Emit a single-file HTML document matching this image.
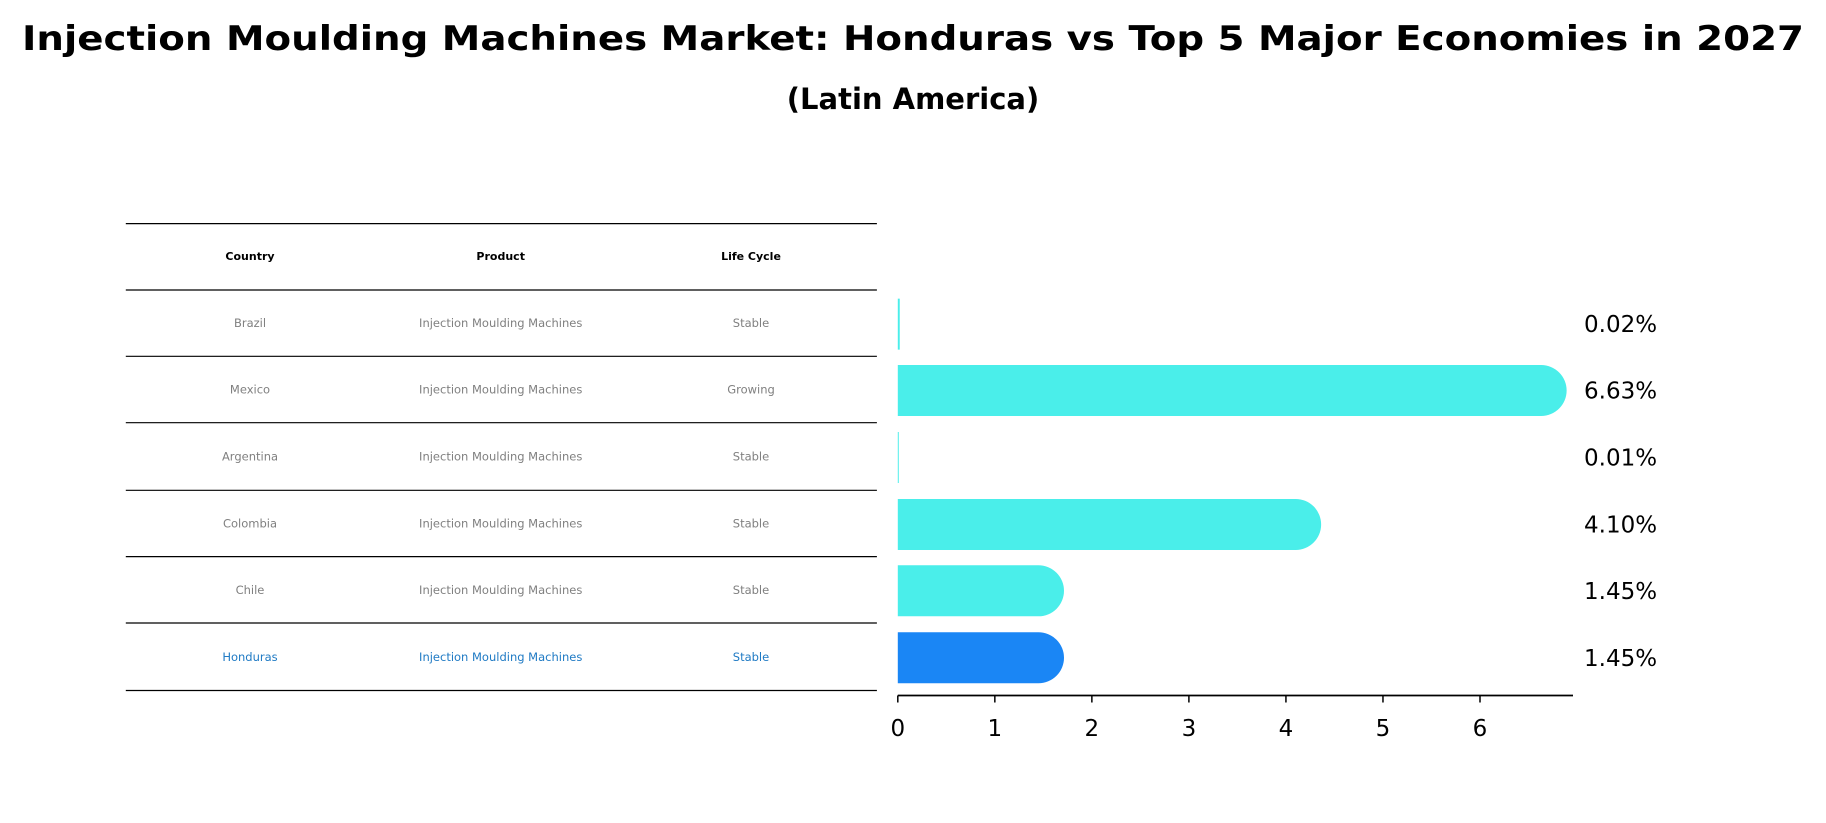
<!DOCTYPE html>
<html><head><meta charset="utf-8"><style>
html,body{margin:0;padding:0;background:#fff;}
svg{display:block;font-family:"DejaVu Sans","Liberation Sans",sans-serif;}
</style></head><body>
<svg id="chart" width="1826" height="823" viewBox="0 0 1826 823">
<text x="913" y="50" text-anchor="middle" font-size="34" font-weight="bold" textLength="1782" lengthAdjust="spacingAndGlyphs">Injection Moulding Machines Market: Honduras vs Top 5 Major Economies in 2027</text>
<text x="913" y="109" text-anchor="middle" font-size="29" font-weight="bold">(Latin America)</text>
<g id="table"></g>
<g id="bars"></g>
</svg>
<script>
const countries = ["Brazil","Mexico","Argentina","Colombia","Chile","Honduras"];
const products = ["Injection Moulding Machines","Injection Moulding Machines","Injection Moulding Machines","Injection Moulding Machines","Injection Moulding Machines","Injection Moulding Machines"];
const lifeCycles = ["Stable","Growing","Stable","Stable","Stable","Stable"];
const values = [0.02,6.63,0.01,4.10,1.45,1.45];
const valueLabels = ["0.02%","6.63%","0.01%","4.10%","1.45%","1.45%"];
const xTicks = [0,1,2,3,4,5,6];
const headers = ["Country","Product","Life Cycle"];

const NS="http://www.w3.org/2000/svg";
function mk(tag,attrs,parent){const e=document.createElementNS(NS,tag);for(const k in attrs)e.setAttribute(k,attrs[k]);parent.appendChild(e);return e;}
const table=document.getElementById('table');
const bars=document.getElementById('bars');
const lineYs=[223.6,290,356.3,422.7,490.3,556.6,623,690.5];
const colX=[250,500.7,751];
lineYs.forEach(function(y){
  const l=mk('line',{x1:125.8,x2:876.9,y1:y,y2:y,stroke:'#000','stroke-width':1.2},table);
  
  
});
headers.forEach(function(h,i){
  const t=mk('text',{x:colX[i],y:260,'text-anchor':'middle','font-size':11,'font-weight':'bold'},table);
  t.textContent=h;
  
  
});
// axis
const x0=897.8, unit=(1480-897.8)/6;
function xs(v){return x0+v*unit;}
const axisY=695.5;
function rowY(i){return (lineYs[i+1]+lineYs[i+2])/2 - 1;}
countries.forEach(function(c,i){
  const cy=(lineYs[i+1]+lineYs[i+2])/2;
  const col=i===5?'#1f7ac4':'#808080';
  [c,products[i],lifeCycles[i]].forEach(function(txt,j){
    const t=mk('text',{x:colX[j],y:cy+4,'text-anchor':'middle','font-size':11.5,fill:col},table);
    t.textContent=txt;
    
    
  });
  const h=51, by=cy-h/2+1;
  const w=xs(values[i])-x0;
  const fill=i===5?'#1a86f5':'#4aeeea';
  let d;
  if(values[i]>=0.5){
    const r=h/2;
    d='M'+x0+','+by+' H'+(x0+w)+' A'+r+','+r+' 0 0 1 '+(x0+w)+','+(by+h)+' H'+x0+' Z';
  } else {
    d='M'+x0+','+by+' h'+Math.max(w,0.5)+' v'+h+' h-'+Math.max(w,0.5)+' Z';
  }
  const b=mk('path',{d:d,fill:fill},bars);
  
  
  const lt=mk('text',{x:1584,y:cy+9,'font-size':23},bars);
  lt.textContent=valueLabels[i];
  
  
});
const ax=mk('line',{x1:x0,x2:1573,y1:axisY,y2:axisY,stroke:'#000','stroke-width':1.8},bars);


xTicks.forEach(function(t){
  const tk=mk('line',{x1:xs(t),x2:xs(t),y1:axisY,y2:axisY+7,stroke:'#000','stroke-width':1.5},bars);
  
  
  const tl=mk('text',{x:xs(t),y:736,'text-anchor':'middle','font-size':23},bars);
  tl.textContent=String(t);
  
  
});
</script>
</body></html>
